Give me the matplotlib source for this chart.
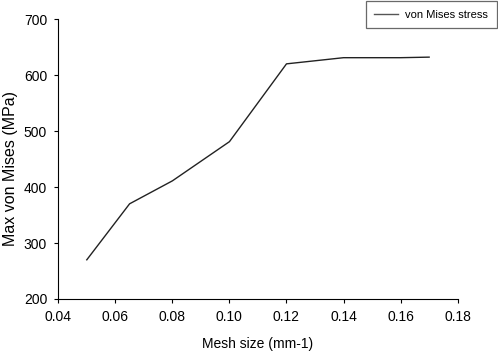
import matplotlib.pyplot as plt

plt.rcParams['font.family'] = ['Liberation Sans', 'DejaVu Sans']

mesh_size = [0.05, 0.065, 0.08, 0.10, 0.12, 0.14, 0.16, 0.17]
von_mises = [270, 370, 411, 481, 620, 631, 631, 632]
x_ticks = [0.04, 0.06, 0.08, 0.10, 0.12, 0.14, 0.16, 0.18]
y_ticks = [200, 300, 400, 500, 600, 700]

fig = plt.figure(figsize=(4.98, 3.53), dpi=100)
ax = fig.add_axes([0.117, 0.153, 0.802, 0.793])

ax.plot(mesh_size, von_mises, color='#222222', linewidth=1.0, label='von Mises stress')

ax.set_xlim(0.04, 0.18)
ax.set_ylim(200, 700)
ax.set_xticks(x_ticks)
ax.set_xticklabels([f"{t:.2f}" for t in x_ticks])
ax.set_yticks(y_ticks)
ax.tick_params(direction='out', length=3, width=0.8, labelsize=10, pad=5)
for side in ['top', 'right']:
    ax.spines[side].set_visible(False)
for side in ['left', 'bottom']:
    ax.spines[side].set_linewidth(0.8)

ax.set_xlabel('Mesh size (mm-1)', fontsize=10, labelpad=9)
# y label placed in figure coords so the larger font stays inside the canvas
fig.text(0.021, 0.523, 'Max von Mises (MPa)', fontsize=11.5, rotation=90,
         ha='center', va='center')

leg = ax.legend(loc='upper right', bbox_to_anchor=(0.997, 0.996),
                bbox_transform=fig.transFigure, borderaxespad=0, fontsize=8,
                frameon=True, fancybox=False, edgecolor='#444444',
                handlelength=2.1, handletextpad=0.7, borderpad=0.75)
leg.get_frame().set_linewidth(0.9)
leg.get_lines()[0].set_color('#555555')

fig.savefig('out.png', dpi=100)
